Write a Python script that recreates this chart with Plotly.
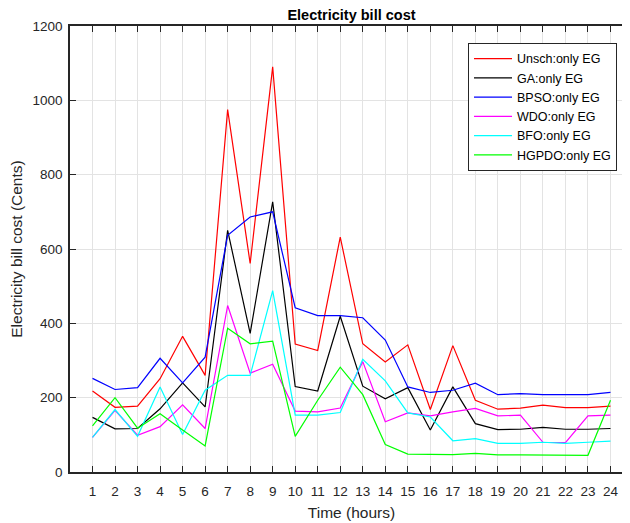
import plotly.graph_objects as go

hours = list(range(1, 25))
tick_vals_y = [0, 200, 400, 600, 800, 1000, 1200]

unsch = [218, 174, 177, 251, 365, 260, 975, 561, 1090, 344, 327, 632, 345, 296, 342, 168, 340, 193, 169, 172, 180, 173, 173, 177]
ga = [147, 116, 117, 170, 240, 175, 650, 373, 727, 230, 218, 419, 231, 197, 227, 113, 229, 130, 114, 115, 120, 115, 115, 117]
bpso = [252, 222, 227, 306, 240, 309, 637, 686, 700, 442, 421, 421, 415, 355, 229, 214, 220, 239, 208, 211, 208, 208, 208, 214]
wdo = [93, 166, 99, 122, 181, 117, 448, 266, 290, 164, 162, 172, 297, 135, 159, 151, 162, 171, 151, 153, 80, 79, 151, 153]
bfo = [93, 168, 96, 229, 101, 220, 260, 260, 488, 153, 153, 160, 303, 245, 159, 148, 84, 90, 77, 77, 80, 77, 80, 83]
hgpdo = [124, 200, 118, 157, 113, 70, 387, 345, 352, 96, 193, 282, 208, 74, 48, 47, 47, 50, 46, 46, 46, 46, 45, 193]

series = [
    ("Unsch:only EG", unsch, "#ff0000"),
    ("GA:only EG", ga, "#000000"),
    ("BPSO:only EG", bpso, "#0000ff"),
    ("WDO:only EG", wdo, "#ff00ff"),
    ("BFO:only EG", bfo, "#00ffff"),
    ("HGPDO:only EG", hgpdo, "#00ff00"),
]

FONT = "Liberation Sans, Arial, sans-serif"
AX = "#262626"

fig = go.Figure()
for name, vals, col in series:
    fig.add_trace(go.Scatter(x=hours, y=vals, mode="lines", name=name,
                             line=dict(color=col, width=1.2)))

fig.update_layout(
    width=630, height=523, autosize=False,
    margin=dict(l=62, r=5, t=18, b=59),
    paper_bgcolor="white", plot_bgcolor="white",
    font=dict(family=FONT, color=AX, size=13),
    title=dict(text="Electricity bill cost", x=0.5, xref="paper", xanchor="center",
               y=1 - 2 / 523, yanchor="top", yref="container", pad=dict(t=0, b=0),
               font=dict(size=14.5, weight="bold", color="#000000", family=FONT)),
    showlegend=True,
    legend=dict(x=0.9716, y=0.962, xanchor="right", yanchor="top",
                bgcolor="white", bordercolor=AX, borderwidth=1,
                font=dict(size=12.5, family=FONT, color="#000000"),
                tracegroupgap=0, itemwidth=38),
)

fig.update_xaxes(
    range=[0, 25], tickvals=hours, ticktext=[str(h) for h in hours],
    showgrid=True, gridcolor="#e3e3e3", gridwidth=1,
    showline=True, linecolor=AX, linewidth=1.5, mirror="ticks",
    ticks="inside", ticklen=6, tickcolor=AX,
    tickfont=dict(size=13.5, family=FONT, color=AX), ticklabelstandoff=6,
    title=dict(text="Time (hours)", font=dict(size=15.5, family=FONT, color=AX), standoff=9),
    zeroline=False, automargin=False,
)
fig.update_yaxes(
    range=[0, 1200], tickvals=tick_vals_y, ticktext=[str(v) for v in tick_vals_y],
    showgrid=True, gridcolor="#e3e3e3", gridwidth=1,
    showline=True, linecolor=AX, linewidth=1.5,
    ticks="inside", ticklen=6, tickcolor=AX,
    tickfont=dict(size=13.5, family=FONT, color=AX), ticklabelstandoff=3,
    title=dict(text="Electricity bill cost (Cents)", font=dict(size=15.5, family=FONT, color=AX), standoff=6.5),
    zeroline=False, automargin=False,
)

fig.write_html("out.html")
